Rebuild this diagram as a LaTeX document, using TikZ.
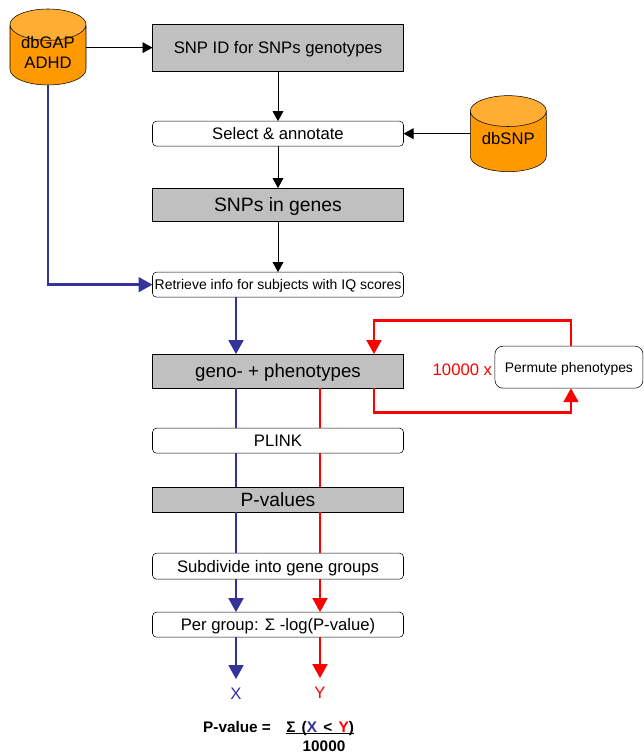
\documentclass[tikz,border=0pt]{standalone}
\usepackage{fontspec}
\setmainfont{Liberation Sans}
\usepackage{tikz}
\usetikzlibrary{positioning,shapes.geometric,arrows.meta}
\definecolor{dbOrange}{RGB}{255,153,0}
\definecolor{dbTop}{RGB}{255,173,51}
\definecolor{boxGray}{RGB}{192,192,192}
\definecolor{pathBlue}{RGB}{51,51,153}
\definecolor{pathRed}{RGB}{255,0,0}
\newcommand{\fsize}[1]{\fontsize{#1}{15}\selectfont}
\tikzset{
  graybox/.style={draw, rectangle, fill=boxGray, outer sep=0pt, minimum width=188.25pt, text depth=0pt, font=\fsize{12.5}},
  whitebox/.style={draw, rectangle, rounded corners=3pt, fill=white, outer sep=0pt, minimum width=188.25pt, minimum height=18.75pt, text depth=0pt, font=\fsize{12.5}},
  dbcyl/.style={draw, cylinder, shape border rotate=90, aspect=0.5, outer sep=0pt, inner ysep=-4pt, cylinder uses custom fill, cylinder body fill=dbOrange, cylinder end fill=dbTop, minimum width=57pt, minimum height=57pt, align=center, text depth=9.75pt, anchor=shape center, font=\fsize{12.5}},
  flow/.style={-{Triangle[length=7.5pt,width=8pt]}, line width=0.7pt},
  blueline/.style={pathBlue, line width=2.1pt},
  redline/.style={pathRed, line width=2.1pt},
  bluearrow/.style={blueline, -{Triangle[length=10.5pt,width=11pt]}},
  redarrow/.style={redline, -{Triangle[length=10.5pt,width=11pt]}}
}
\begin{document}
\begin{tikzpicture}
\useasboundingbox (0,0) rectangle (482.25pt,564.75pt);
\node[graybox, minimum height=35.25pt] (snpid) at (208.5pt,529pt) {SNP ID for SNPs genotypes};
\node[whitebox, below=37.5pt of snpid] (select) {Select \& annotate};
\node[graybox, minimum height=24.75pt, below=31.5pt of select, font=\fsize{14.5}] (genes) {SNPs in genes};
\node[whitebox, below=38.25pt of genes, font=\fsize{10.5}, inner xsep=0pt] (retrieve) {Retrieve info for subjects with IQ scores};
\node[graybox, minimum height=25.5pt, below=42.75pt of retrieve, font=\fsize{14}] (geno) {geno- + phenotypes};
\node[whitebox, below=30pt of geno] (plink) {PLINK};
\node[graybox, minimum height=18.75pt, below=25.5pt of plink, font=\fsize{14.4}] (pval) {P-values};
\node[whitebox, minimum height=19.5pt, below=30.75pt of pval] (subdiv) {Subdivide into gene groups};
\node[whitebox, below=24.75pt of subdiv] (group) {Per group: Σ -log(P-value)};

\node[dbcyl] (dbgap) at (36pt,529.5pt) {dbGAP\\ADHD};
\node[dbcyl, xshift=78.6pt] (dbsnp) at (select.east) {dbSNP};

\node[whitebox, anchor=south west, minimum width=111pt, minimum height=31.5pt, rounded corners=6pt, font=\fsize{10.4}, inner xsep=0pt, xshift=68.6pt] (permute) at (geno.south east) {Permute phenotypes};
\node[left=2pt of permute, pathRed, font=\fsize{12.5}, inner xsep=0pt, yshift=-2pt] (times) {10000 x};

\node[pathBlue, anchor=north, font=\fsize{12.5}, inner sep=6.75pt, xshift=-31.5pt, yshift=-31.5pt] (xval) at (group.south) {X};
\node[pathRed, anchor=north, font=\fsize{12.5}, inner sep=6.75pt, xshift=31.5pt, yshift=-30.75pt] (yval) at (group.south) {Y};

\node[font=\fsize{11.5}\bfseries, anchor=base west, inner sep=0pt] (formula) at (152.2pt,15.75pt) {P-value =};
\node[font=\fsize{11.5}\bfseries, anchor=base west, inner sep=0pt] (psum) at (214.5pt,15.75pt) {Σ\hspace{1.5pt} (\textcolor{pathBlue}{X}\hspace{1.5pt} < \hspace{1.5pt}\textcolor{pathRed}{Y})};
\node[font=\fsize{11.5}\bfseries] (denom) at (243pt,5.2pt) {10000};
\draw [line width=0.8pt] ([yshift=-1.2pt] psum.base west) -- ([yshift=-1.2pt] psum.base east);

\draw [flow] (dbgap.east |- snpid.west) -- (snpid.west);
\draw [flow] (snpid) -- (select);
\draw [flow] (dbsnp.west |- select.east) -- (select.east);
\draw [flow] (select) -- (genes);
\draw [flow] (genes) -- (retrieve);

\draw [bluearrow] (dbgap.south) |- (retrieve.west);
\draw [bluearrow] ([xshift=-31.5pt] retrieve.south) -- ([xshift=-31.5pt] geno.north);
\draw [blueline] ([xshift=-31.5pt] geno.south) -- ([xshift=-31.5pt] plink.north);
\draw [blueline] ([xshift=-31.5pt] plink.south) -- ([xshift=-31.5pt] pval.north);
\draw [blueline] ([xshift=-31.5pt] pval.south) -- ([xshift=-31.5pt] subdiv.north);
\draw [bluearrow] ([xshift=-31.5pt] subdiv.south) -- ([xshift=-31.5pt] group.north);
\draw [bluearrow] ([xshift=-31.5pt] group.south) -- (xval.north);

\draw [redline] ([xshift=31.5pt] geno.south) -- ([xshift=31.5pt] plink.north);
\draw [redline] ([xshift=31.5pt] plink.south) -- ([xshift=31.5pt] pval.north);
\draw [redline] ([xshift=31.5pt] pval.south) -- ([xshift=31.5pt] subdiv.north);
\draw [redarrow] ([xshift=31.5pt] subdiv.south) -- ([xshift=31.5pt] group.north);
\draw [redarrow] ([xshift=31.5pt] group.south) -- (yval.north);

\coordinate[xshift=72pt, yshift=25pt] (looptop) at (geno.north);
\coordinate[xshift=72pt, yshift=-18.5pt] (loopbot) at (geno.south);
\draw [redarrow] ([xshift=1.5pt] permute.north) |- (looptop) -- ([xshift=72pt] geno.north);
\draw [redarrow] ([xshift=72pt] geno.south) -- (loopbot) -| ([xshift=1.5pt] permute.south);
\end{tikzpicture}
\end{document}
